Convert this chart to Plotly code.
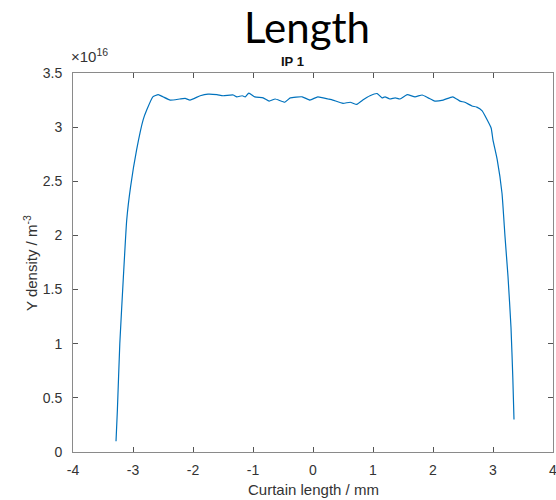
import plotly.graph_objects as go

# Curtain length (mm) and Y density (units of 1e16 m^-3)
x_mm = [-3.283, -3.26, -3.22, -3.16, -3.105, -3.04, -2.94, -2.83, -2.77, -2.67, -2.58, -2.5,
        -2.38, -2.22, -2.13, -2.05, -1.88, -1.75, -1.6, -1.5, -1.33, -1.27, -1.18, -1.13,
        -1.07, -0.97, -0.83, -0.73, -0.63, -0.47, -0.38, -0.18, -0.05, 0.08, 0.25, 0.33,
        0.5, 0.62, 0.73, 0.83, 0.95, 1.07, 1.15, 1.2, 1.28, 1.37, 1.45, 1.57, 1.7, 1.82,
        1.92, 2.03, 2.17, 2.33, 2.45, 2.53, 2.65, 2.73, 2.82, 2.9, 2.97, 3.0, 3.07, 3.15,
        3.2, 3.25, 3.3, 3.33, 3.35]
density = [0.1, 0.39, 1.0, 1.62, 2.14, 2.45, 2.79, 3.07, 3.16, 3.28, 3.30, 3.28,
           3.25, 3.26, 3.265, 3.25, 3.29, 3.305, 3.30, 3.29, 3.297, 3.28, 3.29, 3.28,
           3.315, 3.28, 3.27, 3.24, 3.26, 3.23, 3.27, 3.28, 3.25, 3.28, 3.26, 3.25,
           3.22, 3.23, 3.21, 3.25, 3.29, 3.31, 3.27, 3.28, 3.26, 3.27, 3.26, 3.30, 3.28, 3.297,
           3.27, 3.24, 3.25, 3.28, 3.24, 3.23, 3.195, 3.185, 3.15, 3.07, 2.99, 2.88, 2.70, 2.39,
           1.99, 1.62, 1.15, 0.69, 0.3]

x_ticks = [-4, -3, -2, -1, 0, 1, 2, 3, 4]
x_tick_labels = ["-4", "-3", "-2", "-1", "0", "1", "2", "3", "4"]
y_ticks = [0, 0.5, 1, 1.5, 2, 2.5, 3, 3.5]
y_tick_labels = ["0", "0.5", "1", "1.5", "2", "2.5", "3", "3.5"]

main_title = "Length"
sub_title = "IP 1"
x_label = "Curtain length / mm"
y_label = "Y density / m<sup>-3</sup>"
exponent = "×10<sup>16</sup>"

fig = go.Figure()
fig.add_trace(go.Scatter(x=x_mm, y=density, mode="lines",
                         line=dict(color="#0072BD", width=1.2, shape="spline", smoothing=0.4),
                         showlegend=False, hoverinfo="skip"))

axis_common = dict(showgrid=False, zeroline=False, showline=True, linecolor="#8a8a8a",
                   linewidth=1, mirror="ticks", ticks="inside", ticklen=5,
                   tickcolor="#555555", tickwidth=1, ticklabeloverflow="allow",
                   automargin=False,
                   tickfont=dict(family="Liberation Sans, Arial", size=14, color="#333333"))

fig.update_layout(
    width=556, height=500,
    margin=dict(l=73, r=3, t=73, b=48, autoexpand=False),
    paper_bgcolor="white", plot_bgcolor="white",
    xaxis=dict(range=[-4, 4], tickvals=x_ticks, ticktext=x_tick_labels,
               ticklabelstandoff=5, **axis_common),
    yaxis=dict(range=[0, 3.5], tickvals=y_ticks, ticktext=y_tick_labels,
               ticklabelstandoff=7, **axis_common),
)

H = 379.0
W = 480.0
def px_to_paper(px, py):
    return (px - 73) / W, (452 - py) / H

annots = [
    (main_title, 307, 27, dict(family="Lato, Open Sans, sans-serif", size=42, color="black"), 0),
    ("<b>" + sub_title + "</b>", 292, 61, dict(family="Liberation Sans, Arial", size=13, color="#111111"), 0),
    (x_label, 313, 489, dict(family="Liberation Sans, Arial", size=15, color="#333333"), 0),
    (y_label, 30, 263, dict(family="Liberation Sans, Arial", size=15, color="#333333"), -90),
]
for text, px, py, font, ang in annots:
    xp, yp = px_to_paper(px, py)
    fig.add_annotation(text=text, x=xp, y=yp, xref="paper", yref="paper",
                       showarrow=False, xanchor="center", yanchor="middle",
                       font=font, textangle=ang)

xp, yp = px_to_paper(69, 67)
fig.add_annotation(text=exponent, x=xp, y=yp, xref="paper", yref="paper", showarrow=False,
                   xanchor="left", yanchor="bottom",
                   font=dict(family="Liberation Sans, Arial", size=15, color="#333333"))

fig.write_html("out.html")
